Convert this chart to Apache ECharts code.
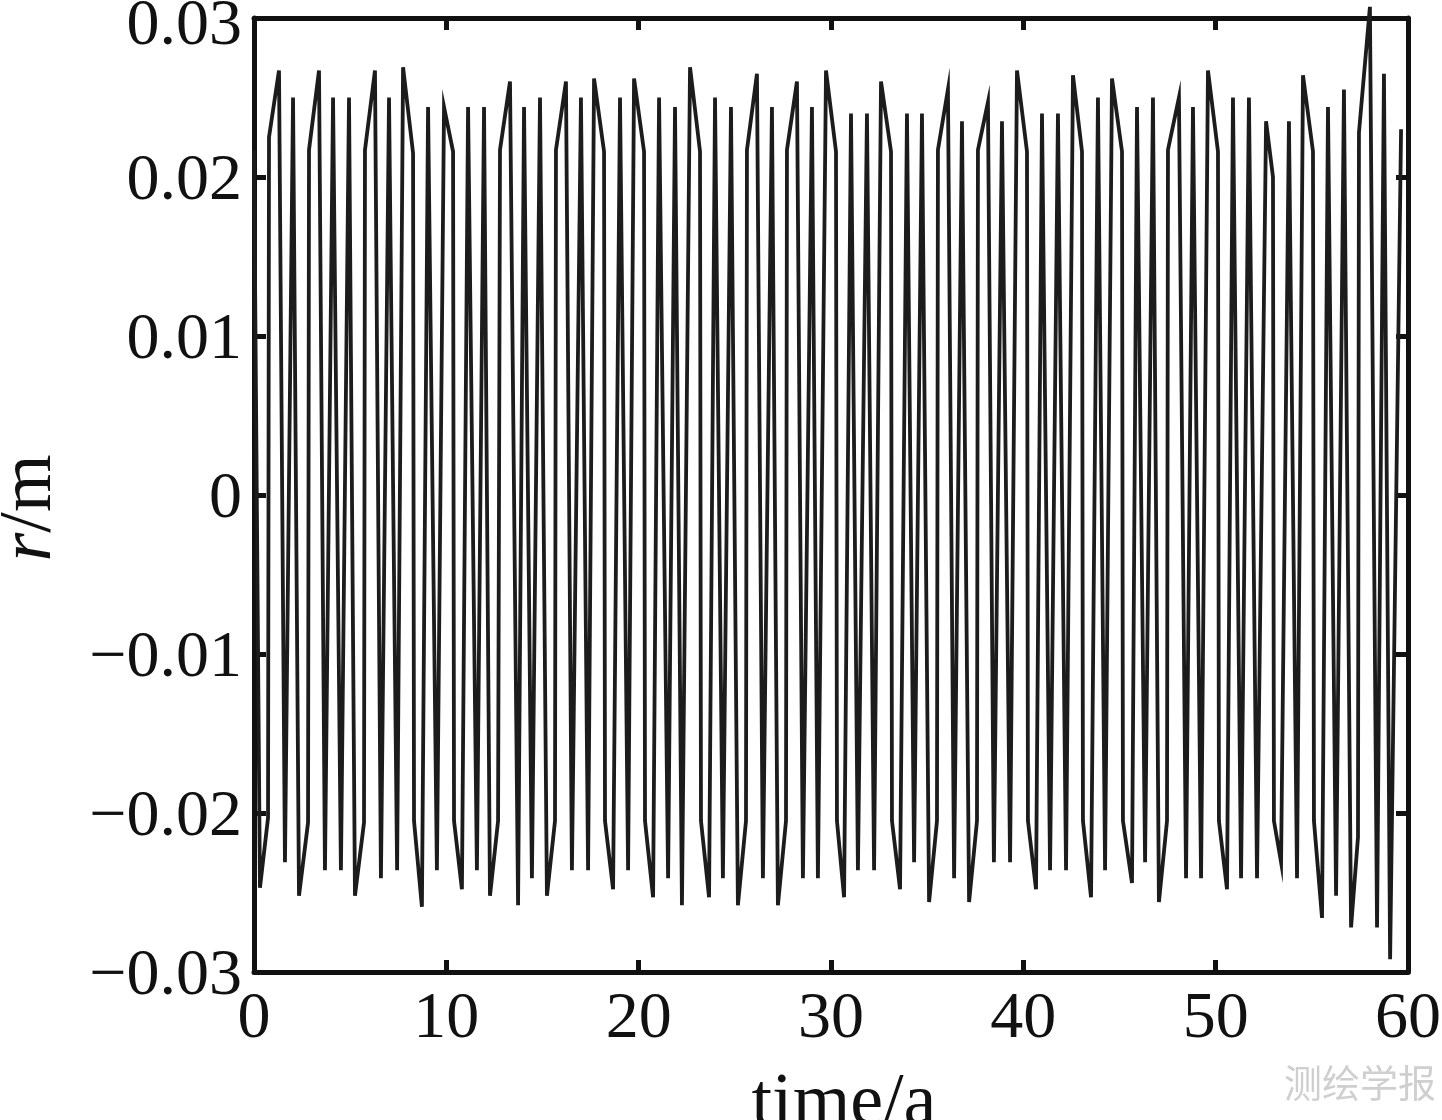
<!DOCTYPE html>
<html>
<head>
<meta charset="utf-8">
<script src="https://cdn.jsdelivr.net/npm/echarts@6/dist/echarts.min.js"></script>
<style>
  html, body { margin: 0; padding: 0; background: #fff; }
  #main { width: 1442px; height: 1120px; }
</style>
</head>
<body>
<div id="main"></div>
<script>
const timeA = [
  0.00, 0.31, 0.73, 0.78, 1.30, 1.61, 2.03, 2.34, 2.81, 2.86,
  3.38, 3.69, 4.11, 4.52, 4.94, 5.25, 5.72, 5.77, 6.29, 6.60,
  7.02, 7.44, 7.75, 8.27, 8.32, 8.73, 9.05, 9.51, 9.88, 10.35,
  10.40, 10.81, 11.13, 11.59, 11.96, 12.27, 12.69, 12.79, 13.31, 13.73,
  14.04, 14.45, 14.87, 15.23, 15.65, 15.70, 16.22, 16.53, 17.00, 17.37,
  17.68, 18.20, 18.25, 18.67, 19.03, 19.45, 19.76, 20.28, 20.33, 20.75,
  21.06, 21.53, 21.89, 22.25, 22.67, 23.19, 23.24, 23.66, 23.97, 24.38,
  24.80, 25.16, 25.58, 25.63, 26.15, 26.46, 26.93, 27.24, 27.66, 27.71,
  28.23, 28.54, 29.01, 29.32, 29.74, 30.26, 30.31, 30.68, 31.04, 31.40,
  31.87, 32.24, 32.60, 33.12, 33.17, 33.59, 33.95, 34.32, 34.73, 35.10,
  35.51, 35.56, 36.08, 36.40, 36.81, 37.18, 37.59, 37.64, 38.16, 38.47,
  38.89, 39.31, 39.67, 40.19, 40.24, 40.66, 40.97, 41.39, 41.80, 42.22,
  42.58, 43.05, 43.10, 43.52, 43.88, 44.25, 44.61, 45.13, 45.18, 45.65,
  45.91, 46.33, 46.74, 47.05, 47.47, 47.52, 48.09, 48.46, 48.82, 49.24,
  49.60, 50.12, 50.17, 50.59, 50.90, 51.32, 51.73, 52.15, 52.62, 52.98,
  53.03, 53.40, 53.81, 54.23, 54.54, 55.06, 55.11, 55.53, 55.84, 56.26,
  56.67, 57.04, 57.40, 57.45, 58.02, 58.39, 58.75, 59.07, 59.64
];
const rM = [
  0.0217, -0.0247, -0.0203, 0.0225, 0.0267, -0.0231, 0.0250, -0.0252, -0.0206, 0.0217,
  0.0267, -0.0236, 0.0250, -0.0236, 0.0250, -0.0252, -0.0206, 0.0217, 0.0267, -0.0241,
  0.0250, -0.0236, 0.0269, 0.0215, -0.0205, -0.0259, 0.0244, -0.0236, 0.0244, 0.0216,
  -0.0205, -0.0248, 0.0244, -0.0236, 0.0244, -0.0252, -0.0205, 0.0217, 0.0260, -0.0258,
  0.0244, -0.0241, 0.0250, -0.0252, -0.0205, 0.0217, 0.0260, -0.0236, 0.0250, -0.0236,
  0.0262, 0.0216, -0.0205, -0.0248, 0.0250, -0.0236, 0.0262, 0.0216, -0.0205, -0.0253,
  0.0250, -0.0241, 0.0244, -0.0258, 0.0269, 0.0216, -0.0205, -0.0253, 0.0250, -0.0241,
  0.0244, -0.0258, -0.0205, 0.0217, 0.0265, -0.0241, 0.0244, -0.0258, -0.0205, 0.0217,
  0.0260, -0.0241, 0.0244, -0.0241, 0.0267, 0.0216, -0.0205, -0.0253, 0.0240, -0.0236,
  0.0240, -0.0236, 0.0260, 0.0216, -0.0205, -0.0248, 0.0240, -0.0231, 0.0240, -0.0256,
  -0.0205, 0.0217, 0.0255, -0.0241, 0.0235, -0.0256, -0.0205, 0.0217, 0.0247, -0.0231,
  0.0235, -0.0231, 0.0267, 0.0216, -0.0205, -0.0248, 0.0240, -0.0236, 0.0240, -0.0236,
  0.0264, 0.0216, -0.0205, -0.0253, 0.0250, -0.0236, 0.0262, 0.0216, -0.0205, -0.0244,
  0.0244, -0.0231, 0.0250, -0.0256, -0.0205, 0.0217, 0.0250, -0.0241, 0.0244, -0.0241,
  0.0267, 0.0216, -0.0205, -0.0248, 0.0250, -0.0241, 0.0250, -0.0241, 0.0235, 0.0200,
  -0.0205, -0.0231, 0.0235, -0.0241, 0.0264, 0.0216, -0.0205, -0.0266, 0.0244, -0.0252,
  0.0255, -0.0272, -0.0215, 0.0228, 0.0307, -0.0272, 0.0265, -0.0292, 0.0230
];
const xTicks = [0, 10, 20, 30, 40, 50, 60];
const yTicks = [-0.03, -0.02, -0.01, 0, 0.01, 0.02, 0.03];

const chart = echarts.init(document.getElementById('main'));
const serif = 'Liberation Serif, Times New Roman, serif';
const ink = '#111';

function yLabel(v) {
  if (Math.abs(v) < 1e-9) return '{n|0}';
  const s = (v < 0 ? '\u2212' : '') + Math.abs(v).toFixed(2);
  // the top label sits a little lower than its tick in the original
  return v > 0.025 ? '{t|' + s + '}' : '{n|' + s + '}';
}

const labelText = { color: ink, fontFamily: serif, fontSize: 66 };

const frameAxis = {
  axisLine: { show: true, onZero: false, lineStyle: { color: ink, width: 5 } },
  axisTick: { show: true, inside: true, length: 12, lineStyle: { color: ink, width: 5 } },
  splitLine: { show: false }
};

chart.setOption({
  animation: false,
  backgroundColor: '#fff',
  grid: { left: 254, right: 34, top: 18, bottom: 148, containLabel: false, outerBoundsMode: 'none' },
  xAxis: [
    Object.assign({
      type: 'value', position: 'bottom',
      min: xTicks[0], max: xTicks[xTicks.length - 1], interval: 10,
      axisLabel: Object.assign({ margin: 15 }, labelText),
      name: 'time/a', nameLocation: 'middle', nameGap: 96,
      nameTextStyle: { color: ink, fontFamily: serif, fontSize: 74, padding: [0, 0, 0, 26] }
    }, frameAxis),
    Object.assign({
      type: 'value', position: 'top',
      min: xTicks[0], max: xTicks[xTicks.length - 1], interval: 10,
      axisLabel: { show: false }
    }, frameAxis)
  ],
  yAxis: [
    Object.assign({
      type: 'value', position: 'left',
      min: yTicks[0], max: yTicks[yTicks.length - 1], interval: 0.01,
      axisLabel: Object.assign({
        margin: 12, formatter: yLabel,
        rich: {
          n: Object.assign({ padding: [10, 0, 0, 0] }, labelText),
          t: Object.assign({ padding: [18, 0, 0, 0] }, labelText)
        }
      }, labelText),
      name: '{i|r}/m', nameLocation: 'middle', nameGap: 186, nameRotate: 90,
      nameTextStyle: {
        color: ink, fontFamily: serif, fontSize: 74, padding: [0, 26, 0, 0],
        rich: { i: { fontStyle: 'italic', fontFamily: serif, fontSize: 74, color: ink } }
      }
    }, frameAxis),
    Object.assign({
      type: 'value', position: 'right',
      min: yTicks[0], max: yTicks[yTicks.length - 1], interval: 0.01,
      axisLabel: { show: false }
    }, frameAxis)
  ],
  series: [{
    type: 'line',
    xAxisIndex: 0, yAxisIndex: 0,
    data: timeA.map((t, i) => [t, rM[i]]),
    showSymbol: false,
    clip: false,
    lineStyle: { color: '#1c1c1c', width: 3.8, join: 'miter', miterLimit: 12 }
  }],
  graphic: [{
    type: 'text', right: 6, top: 1064,
    style: { text: '测绘学报', fill: '#cfcfcf', font: '38px "Noto Sans CJK SC"' }
  }]
});
</script>
</body>
</html>
